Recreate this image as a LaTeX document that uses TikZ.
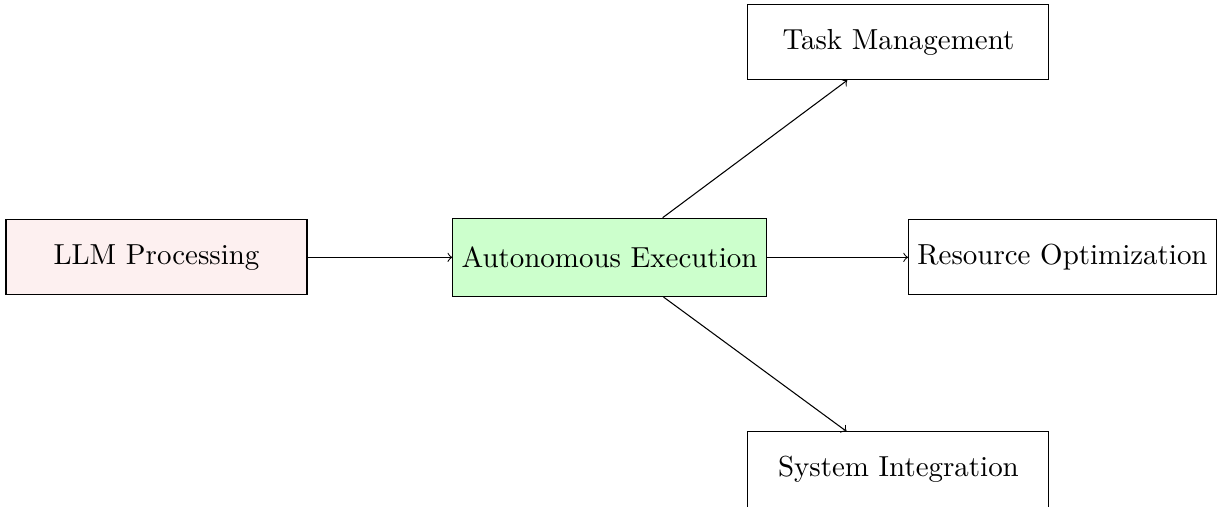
\documentclass[tikz,border=0pt]{standalone}
\usetikzlibrary{positioning}

\definecolor{llmfill}{RGB}{253,240,240}
\definecolor{execfill}{RGB}{204,255,204}

\tikzset{
  box/.style={draw, rectangle, minimum width=4cm, minimum height=1cm,
              font=\fontsize{10.95}{13.6}\selectfont, inner sep=0.3333em},
  flow/.style={->, line width=0.4pt}
}

\begin{document}
\begin{tikzpicture}
  % fixed canvas
  \useasboundingbox (-8.10,-3.316) rectangle (8.18,3.42);

  \node[box, fill=execfill, minimum height=1.04cm] (exec) at (0,0) {Autonomous Execution};
  \node[box, fill=llmfill] (llm) at (-6.02,0) {LLM Processing};
  \node[box] (task) at (3.84,2.86) {Task Management};
  \node[box] (res) at (6.02,0) {Resource Optimization};
  \node[box] (sys) at (3.84,-2.82) {System Integration};

  \draw[flow] (llm) -- (exec);
  \draw[flow] (exec) -- (task);
  \draw[flow] (exec) -- (res);
  \draw[flow] (exec) -- (sys);
\end{tikzpicture}
\end{document}
